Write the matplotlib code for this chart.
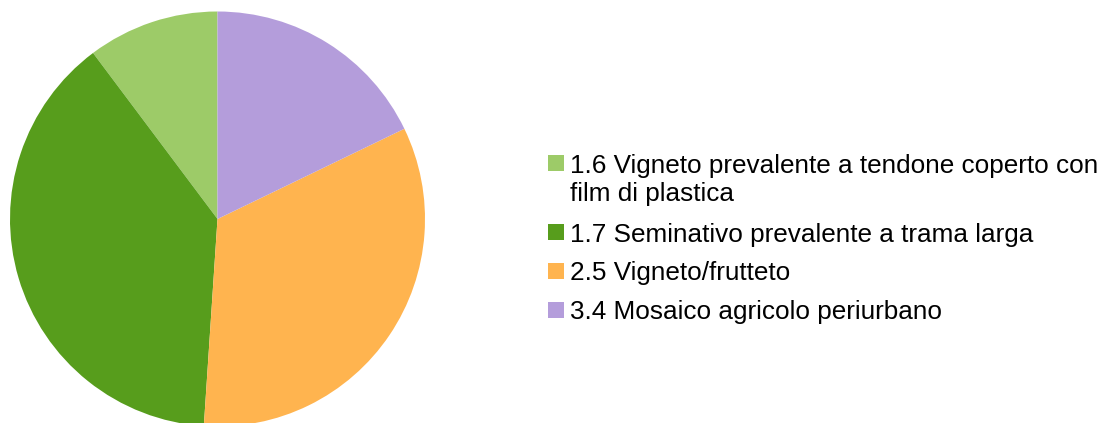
import matplotlib.pyplot as plt
from matplotlib.patches import Rectangle

labels = [
    "1.6 Vigneto prevalente a tendone coperto con\nfilm di plastica",
    "1.7 Seminativo prevalente a trama larga",
    "2.5 Vigneto/frutteto",
    "3.4 Mosaico agricolo periurbano",
]
values = [10.24, 38.71, 33.21, 17.84]
colors = ["#9dcb68", "#579d1c", "#ffb44f", "#b49ddb"]

plt.rcParams["font.family"] = ["Liberation Sans", "DejaVu Sans"]

W, H = 1100, 423
fig = plt.figure(figsize=(W / 100, H / 100), dpi=100)

# pie centre (217.5, 219) px, radius 207.5 px
cx, cy, r = 217.5, 219, 207.5
ax = fig.add_axes([(cx - r) / W, 1 - (cy + r) / H, 2 * r / W, 2 * r / H])
ax.pie(values, colors=colors, startangle=90, counterclock=True,
       wedgeprops=dict(linewidth=0), radius=1)
ax.set_xlim(-1, 1)
ax.set_ylim(-1, 1)
ax.set_aspect("equal")
ax.axis("off")

# legend drawn by hand, baselines in px
baselines = [172.5, 241.5, 280.0, 319.0]
sq = 16
for lab, col, b in zip(labels, colors, baselines):
    top = b - 17.5
    fig.patches.append(Rectangle((548 / W, 1 - (top + sq) / H), sq / W, sq / H,
                                 transform=fig.transFigure, color=col, lw=0))
    for i, line in enumerate(lab.split("\n")):
        fig.text(570.5 / W, 1 - (b + 28.3 * i) / H, line, fontsize=18.8,
                 va="baseline", ha="left", color="#000000")

fig.savefig("out.png", dpi=100)
